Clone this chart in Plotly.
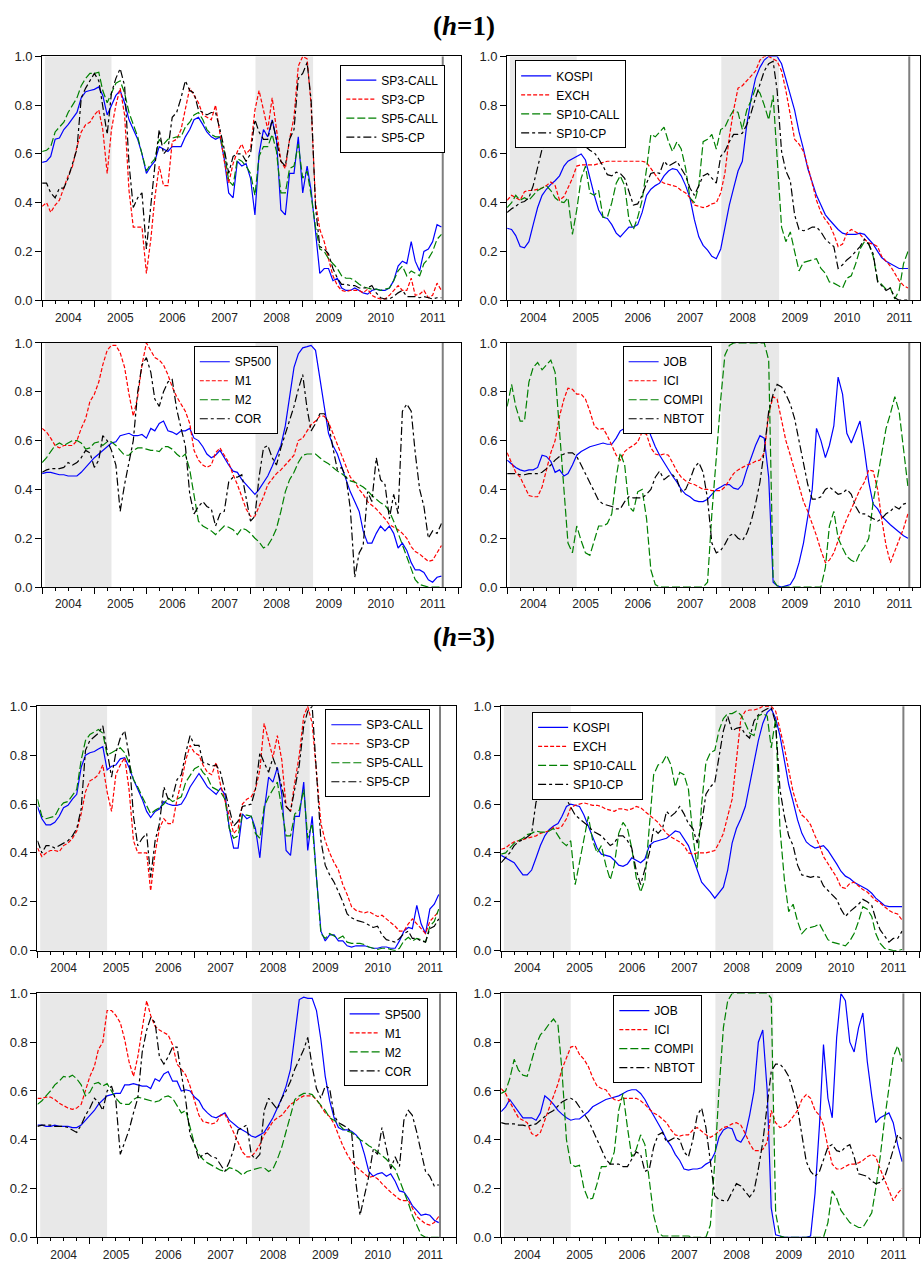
import plotly.graph_objects as go
import pandas as pd

# ---------------- data (monthly, 2004M01 .. 2011M09) ----------------
months = pd.date_range("2004-01-01", periods=93, freq="MS")
year_labels = ["2004", "2005", "2006", "2007", "2008", "2009", "2010", "2011"]
shade_periods = [("2004-01-20", "2005-05-01"), ("2008-02-05", "2009-03-15")]
sample_end = "2011-09-10"

# ===== h = 1 =====
sp3_call_h1 = [0.565,0.57,0.59,0.66,0.665,0.70,0.72,0.745,0.77,0.83,0.855,0.86,
               0.865,0.875,0.84,0.76,0.80,0.84,0.86,0.81,0.74,0.70,0.66,0.60,
               0.52,0.55,0.57,0.63,0.62,0.61,0.63,0.63,0.63,0.67,0.70,0.74,
               0.75,0.72,0.69,0.67,0.66,0.67,0.58,0.44,0.42,0.57,0.55,0.56,
               0.50,0.35,0.60,0.70,0.67,0.74,0.66,0.37,0.35,0.52,0.52,0.67,
               0.44,0.55,0.45,0.28,0.11,0.13,0.13,0.08,0.09,0.05,0.04,0.04,
               0.05,0.04,0.03,0.025,0.04,0.045,0.04,0.04,0.05,0.08,0.14,0.16,
               0.15,0.24,0.16,0.12,0.20,0.21,0.24,0.31,0.30]
sp3_cp_h1 = [0.385,0.40,0.36,0.39,0.41,0.46,0.51,0.55,0.63,0.69,0.72,0.73,
             0.76,0.78,0.70,0.52,0.70,0.80,0.87,0.76,0.45,0.30,0.30,0.30,
             0.11,0.25,0.42,0.55,0.47,0.47,0.65,0.66,0.70,0.78,0.87,0.84,
             0.81,0.76,0.75,0.74,0.80,0.68,0.57,0.48,0.56,0.61,0.64,0.60,
             0.62,0.78,0.86,0.78,0.70,0.83,0.71,0.57,0.54,0.66,0.75,0.96,
             1.0,0.99,0.80,0.40,0.29,0.24,0.17,0.10,0.06,0.04,0.035,0.04,
             0.04,0.04,0.03,0.045,0.02,0.01,0.005,0.005,0.02,0.04,0.06,0.04,
             0.04,0.09,0.02,0.025,0.04,0.01,0.02,0.07,0.04]
sp5_call_h1 = [0.61,0.615,0.63,0.69,0.71,0.73,0.77,0.80,0.83,0.88,0.91,0.93,
               0.93,0.935,0.86,0.81,0.85,0.89,0.90,0.85,0.77,0.72,0.67,0.60,
               0.53,0.56,0.58,0.66,0.64,0.66,0.665,0.67,0.67,0.71,0.73,0.76,
               0.77,0.74,0.70,0.68,0.67,0.67,0.61,0.49,0.47,0.58,0.57,0.55,
               0.52,0.43,0.59,0.63,0.63,0.68,0.61,0.44,0.44,0.54,0.55,0.64,
               0.50,0.53,0.43,0.30,0.21,0.20,0.17,0.15,0.13,0.10,0.09,0.09,
               0.08,0.065,0.055,0.05,0.045,0.045,0.04,0.045,0.05,0.08,0.12,0.14,
               0.10,0.12,0.11,0.10,0.15,0.17,0.20,0.25,0.27]
sp5_cp_h1 = [0.48,0.48,0.44,0.42,0.46,0.46,0.50,0.56,0.62,0.83,0.87,0.90,
             0.93,0.90,0.80,0.68,0.85,0.91,0.95,0.88,0.56,0.38,0.42,0.44,
             0.21,0.40,0.55,0.70,0.60,0.62,0.75,0.77,0.83,0.90,0.86,0.85,
             0.78,0.77,0.76,0.77,0.77,0.70,0.62,0.52,0.59,0.60,0.60,0.57,
             0.60,0.74,0.69,0.66,0.66,0.74,0.66,0.57,0.55,0.66,0.70,0.91,
             0.93,0.975,0.82,0.38,0.22,0.21,0.19,0.13,0.09,0.065,0.065,0.06,
             0.06,0.05,0.05,0.05,0.06,0.03,0.01,0.005,0.005,0.015,0.03,0.04,
             0.015,0.015,0.015,0.01,0.015,0.01,0.005,0.01,0.01]

kospi_h1 = [0.295,0.29,0.265,0.22,0.215,0.24,0.31,0.38,0.43,0.455,0.475,0.49,
            0.51,0.55,0.57,0.58,0.59,0.60,0.575,0.50,0.43,0.37,0.34,0.335,
            0.31,0.275,0.26,0.28,0.30,0.30,0.31,0.36,0.43,0.455,0.47,0.48,
            0.51,0.53,0.54,0.535,0.51,0.47,0.42,0.33,0.26,0.225,0.205,0.18,
            0.17,0.21,0.30,0.39,0.46,0.53,0.57,0.72,0.83,0.91,0.955,0.985,
            1.0,1.0,1.0,0.97,0.91,0.85,0.78,0.69,0.62,0.54,0.48,0.43,
            0.39,0.35,0.33,0.31,0.29,0.275,0.27,0.27,0.27,0.275,0.27,0.25,
            0.23,0.20,0.175,0.16,0.15,0.14,0.13,0.13,0.13]
exch_h1 = [0.41,0.43,0.42,0.41,0.445,0.45,0.45,0.455,0.46,0.47,0.485,0.47,
           0.41,0.425,0.46,0.50,0.55,0.555,0.555,0.555,0.555,0.56,0.565,0.57,
           0.57,0.57,0.57,0.57,0.57,0.57,0.57,0.57,0.565,0.54,0.515,0.49,
           0.48,0.475,0.47,0.465,0.45,0.44,0.42,0.39,0.385,0.38,0.385,0.395,
           0.40,0.44,0.52,0.67,0.78,0.87,0.88,0.90,0.92,0.94,0.985,1.0,
           1.0,0.99,0.98,0.94,0.86,0.76,0.66,0.64,0.61,0.55,0.48,0.41,
           0.36,0.33,0.31,0.27,0.22,0.23,0.275,0.29,0.28,0.27,0.25,0.235,
           0.23,0.22,0.18,0.16,0.14,0.11,0.08,0.06,0.05]
sp10_call_h1 = [0.38,0.40,0.43,0.41,0.42,0.41,0.43,0.45,0.46,0.47,0.45,0.42,
                0.405,0.40,0.42,0.27,0.37,0.50,0.55,0.44,0.43,0.45,0.34,0.34,
                0.40,0.48,0.51,0.47,0.33,0.29,0.34,0.41,0.54,0.68,0.67,0.69,
                0.71,0.65,0.61,0.65,0.62,0.54,0.42,0.40,0.47,0.65,0.66,0.68,
                0.62,0.70,0.71,0.75,0.78,0.77,0.70,0.78,0.82,0.87,0.85,0.80,
                0.74,0.84,0.58,0.30,0.24,0.28,0.20,0.12,0.155,0.16,0.165,0.17,
                0.13,0.11,0.075,0.07,0.06,0.05,0.09,0.10,0.15,0.21,0.24,0.23,
                0.18,0.08,0.065,0.045,0.05,0.005,0.04,0.15,0.20]
sp10_cp_h1 = [0.36,0.375,0.385,0.40,0.405,0.42,0.47,0.54,0.62,0.635,0.645,0.66,
              0.67,0.665,0.655,0.68,0.685,0.66,0.63,0.615,0.605,0.58,0.55,0.515,
              0.51,0.525,0.52,0.50,0.45,0.39,0.395,0.43,0.48,0.52,0.525,0.52,
              0.57,0.55,0.56,0.57,0.54,0.51,0.46,0.43,0.47,0.51,0.52,0.50,
              0.48,0.59,0.61,0.65,0.68,0.68,0.685,0.72,0.77,0.83,0.89,0.94,
              0.97,0.98,0.86,0.61,0.53,0.49,0.35,0.29,0.285,0.29,0.30,0.30,
              0.28,0.25,0.235,0.22,0.13,0.145,0.165,0.18,0.20,0.22,0.25,0.23,
              0.19,0.075,0.06,0.04,0.05,0.01,0.0,0.0,0.0]

sp500_h1 = [0.465,0.47,0.47,0.465,0.46,0.46,0.455,0.455,0.455,0.47,0.49,0.51,
            0.53,0.545,0.56,0.575,0.59,0.595,0.62,0.625,0.63,0.62,0.62,0.625,
            0.61,0.65,0.64,0.67,0.68,0.64,0.635,0.625,0.64,0.64,0.65,0.61,
            0.60,0.575,0.545,0.53,0.54,0.56,0.53,0.50,0.475,0.47,0.44,0.42,
            0.40,0.38,0.40,0.43,0.455,0.495,0.54,0.58,0.66,0.77,0.90,0.955,
            0.98,0.985,0.99,0.97,0.85,0.74,0.63,0.58,0.545,0.49,0.44,0.39,
            0.35,0.31,0.23,0.18,0.18,0.22,0.25,0.23,0.25,0.22,0.16,0.18,
            0.15,0.10,0.07,0.07,0.06,0.03,0.02,0.04,0.045]
m1_h1 = [0.65,0.635,0.61,0.58,0.57,0.58,0.58,0.58,0.60,0.65,0.69,0.76,
         0.79,0.84,0.91,0.97,0.99,0.99,0.96,0.90,0.79,0.70,0.78,0.91,
         1.0,0.97,0.94,0.93,0.91,0.87,0.82,0.78,0.75,0.72,0.67,0.56,
         0.52,0.50,0.49,0.50,0.55,0.57,0.54,0.51,0.46,0.42,0.37,0.32,
         0.29,0.29,0.33,0.37,0.42,0.445,0.465,0.48,0.50,0.52,0.54,0.60,
         0.61,0.64,0.665,0.68,0.70,0.70,0.675,0.63,0.585,0.54,0.50,0.45,
         0.43,0.40,0.38,0.35,0.335,0.32,0.30,0.28,0.255,0.245,0.235,0.22,
         0.20,0.165,0.145,0.135,0.12,0.105,0.11,0.14,0.17]
m2_h1 = [0.51,0.53,0.555,0.58,0.59,0.58,0.59,0.60,0.60,0.59,0.565,0.57,
         0.59,0.595,0.58,0.595,0.595,0.58,0.56,0.54,0.54,0.56,0.57,0.57,
         0.565,0.56,0.56,0.555,0.575,0.575,0.565,0.545,0.53,0.545,0.48,0.38,
         0.27,0.25,0.24,0.23,0.215,0.235,0.25,0.245,0.235,0.215,0.24,0.235,
         0.22,0.20,0.185,0.16,0.17,0.20,0.24,0.31,0.39,0.44,0.47,0.51,
         0.54,0.545,0.545,0.545,0.53,0.515,0.505,0.49,0.475,0.465,0.45,0.435,
         0.43,0.42,0.41,0.395,0.375,0.36,0.345,0.335,0.31,0.27,0.22,0.18,
         0.13,0.08,0.03,0.01,0.005,0.0,0.0,0.0,0.0]
cor_h1 = [0.47,0.48,0.485,0.485,0.485,0.49,0.51,0.50,0.51,0.53,0.56,0.55,
          0.49,0.52,0.62,0.60,0.56,0.50,0.31,0.42,0.52,0.60,0.80,0.91,
          0.94,0.88,0.77,0.74,0.80,0.84,0.85,0.73,0.65,0.58,0.38,0.30,
          0.33,0.35,0.33,0.32,0.25,0.30,0.31,0.43,0.45,0.45,0.46,0.37,
          0.27,0.29,0.45,0.57,0.58,0.53,0.50,0.57,0.63,0.68,0.74,0.81,
          0.87,0.73,0.64,0.67,0.71,0.71,0.67,0.57,0.48,0.49,0.45,0.32,
          0.04,0.14,0.17,0.39,0.35,0.53,0.44,0.42,0.28,0.38,0.30,0.72,
          0.75,0.72,0.55,0.40,0.33,0.20,0.23,0.22,0.26]

job_h1 = [0.52,0.505,0.49,0.48,0.475,0.48,0.48,0.49,0.54,0.535,0.515,0.47,
          0.48,0.455,0.465,0.50,0.54,0.555,0.565,0.575,0.58,0.585,0.59,0.585,
          0.585,0.61,0.64,0.65,0.645,0.655,0.665,0.69,0.67,0.62,0.575,0.54,
          0.51,0.48,0.455,0.43,0.40,0.38,0.37,0.355,0.35,0.35,0.36,0.38,
          0.40,0.41,0.42,0.42,0.405,0.40,0.42,0.48,0.53,0.58,0.62,0.61,
          0.45,0.02,0.005,0.0,0.005,0.01,0.04,0.10,0.18,0.28,0.40,0.65,
          0.60,0.53,0.58,0.66,0.86,0.79,0.63,0.59,0.64,0.68,0.56,0.43,
          0.34,0.32,0.29,0.27,0.255,0.24,0.225,0.21,0.20]
ici_h1 = [0.55,0.51,0.47,0.45,0.41,0.375,0.37,0.37,0.41,0.48,0.55,0.60,
          0.70,0.77,0.815,0.81,0.79,0.79,0.77,0.72,0.66,0.645,0.65,0.62,
          0.58,0.54,0.52,0.555,0.57,0.58,0.595,0.635,0.625,0.57,0.545,0.54,
          0.545,0.54,0.51,0.475,0.45,0.435,0.425,0.42,0.41,0.40,0.40,0.395,
          0.395,0.395,0.41,0.44,0.465,0.48,0.49,0.50,0.505,0.515,0.52,0.55,
          0.71,0.78,0.77,0.69,0.60,0.54,0.48,0.41,0.35,0.31,0.26,0.21,
          0.15,0.10,0.11,0.14,0.19,0.24,0.28,0.32,0.36,0.40,0.43,0.48,
          0.475,0.40,0.28,0.17,0.10,0.15,0.19,0.24,0.30]
compi_h1 = [0.74,0.83,0.74,0.68,0.68,0.84,0.90,0.92,0.89,0.91,0.93,0.88,
            0.64,0.36,0.18,0.14,0.25,0.19,0.14,0.13,0.19,0.25,0.25,0.26,
            0.30,0.45,0.55,0.50,0.33,0.31,0.39,0.40,0.28,0.07,0.01,0.0,
            0.0,0.0,0.0,0.0,0.0,0.0,0.0,0.0,0.0,0.0,0.02,0.30,
            0.53,0.77,0.95,0.99,1.0,1.0,1.0,1.0,1.0,1.0,1.0,1.0,
            0.93,0.03,0.005,0.0,0.0,0.0,0.0,0.0,0.0,0.0,0.0,0.0,
            0.0,0.08,0.25,0.31,0.20,0.16,0.125,0.11,0.10,0.14,0.165,0.20,
            0.35,0.45,0.55,0.65,0.71,0.78,0.72,0.56,0.41]
nbtot_h1 = [0.465,0.465,0.465,0.46,0.46,0.465,0.465,0.465,0.47,0.485,0.50,0.52,
            0.535,0.545,0.55,0.55,0.535,0.50,0.465,0.43,0.39,0.355,0.34,0.335,
            0.33,0.32,0.32,0.35,0.37,0.365,0.365,0.365,0.38,0.40,0.45,0.475,
            0.44,0.455,0.46,0.44,0.39,0.40,0.44,0.49,0.51,0.47,0.36,0.18,
            0.14,0.15,0.175,0.21,0.22,0.20,0.19,0.22,0.27,0.34,0.43,0.56,
            0.72,0.79,0.83,0.82,0.79,0.75,0.69,0.60,0.51,0.42,0.36,0.36,
            0.37,0.40,0.41,0.395,0.38,0.385,0.40,0.38,0.33,0.30,0.30,0.29,
            0.28,0.27,0.28,0.30,0.31,0.33,0.32,0.34,0.345]

# ===== h = 3 =====
sp3_call_h3 = [0.59,0.54,0.515,0.515,0.525,0.55,0.585,0.595,0.62,0.64,0.75,0.80,
               0.81,0.815,0.825,0.835,0.74,0.755,0.76,0.785,0.79,0.75,0.70,0.66,
               0.62,0.57,0.545,0.57,0.58,0.61,0.60,0.595,0.595,0.60,0.63,0.67,
               0.70,0.725,0.70,0.67,0.655,0.64,0.665,0.64,0.50,0.42,0.42,0.56,
               0.54,0.55,0.50,0.38,0.57,0.71,0.69,0.75,0.64,0.41,0.39,0.55,
               0.55,0.69,0.41,0.55,0.30,0.08,0.04,0.065,0.065,0.04,0.04,0.02,
               0.015,0.02,0.02,0.02,0.015,0.01,0.01,0.015,0.015,0.01,0.01,0.04,
               0.08,0.095,0.09,0.185,0.11,0.07,0.17,0.19,0.23]
sp3_cp_h3 = [0.42,0.385,0.40,0.41,0.41,0.405,0.43,0.44,0.46,0.49,0.56,0.65,
             0.695,0.705,0.72,0.76,0.65,0.57,0.72,0.76,0.79,0.66,0.45,0.40,
             0.40,0.40,0.245,0.40,0.50,0.54,0.52,0.52,0.62,0.69,0.78,0.84,
             0.81,0.80,0.76,0.73,0.72,0.77,0.68,0.62,0.55,0.48,0.50,0.60,
             0.62,0.63,0.66,0.74,0.93,0.86,0.79,0.88,0.78,0.59,0.57,0.69,
             0.80,0.96,1.0,0.93,0.72,0.52,0.45,0.40,0.36,0.33,0.27,0.23,
             0.18,0.165,0.16,0.155,0.16,0.15,0.14,0.145,0.13,0.115,0.10,0.08,
             0.08,0.11,0.13,0.11,0.09,0.07,0.12,0.14,0.16]
sp5_call_h3 = [0.62,0.55,0.54,0.545,0.55,0.585,0.605,0.61,0.635,0.66,0.78,0.86,
               0.885,0.895,0.905,0.89,0.80,0.81,0.82,0.83,0.81,0.77,0.70,0.67,
               0.63,0.59,0.56,0.575,0.585,0.60,0.625,0.61,0.62,0.63,0.69,0.72,
               0.745,0.755,0.73,0.71,0.67,0.66,0.65,0.62,0.50,0.46,0.47,0.555,
               0.555,0.55,0.48,0.46,0.59,0.63,0.66,0.69,0.58,0.47,0.47,0.56,
               0.575,0.66,0.46,0.52,0.30,0.07,0.05,0.07,0.06,0.05,0.06,0.035,
               0.03,0.03,0.03,0.025,0.015,0.01,0.005,0.01,0.01,0.005,0.0,0.01,
               0.04,0.055,0.04,0.05,0.045,0.035,0.10,0.12,0.17]
sp5_cp_h3 = [0.45,0.40,0.43,0.43,0.42,0.43,0.44,0.45,0.47,0.50,0.58,0.82,
             0.86,0.875,0.89,0.92,0.82,0.71,0.81,0.87,0.90,0.80,0.55,0.43,
             0.46,0.48,0.30,0.45,0.52,0.67,0.62,0.63,0.70,0.72,0.81,0.88,
             0.84,0.84,0.77,0.765,0.755,0.76,0.73,0.65,0.58,0.51,0.53,0.59,
             0.595,0.60,0.66,0.81,0.77,0.73,0.79,0.74,0.67,0.59,0.57,0.67,
             0.76,0.92,0.98,1.0,0.75,0.45,0.35,0.31,0.28,0.24,0.20,0.15,
             0.135,0.125,0.12,0.115,0.105,0.095,0.10,0.065,0.045,0.04,0.035,0.05,
             0.07,0.08,0.05,0.05,0.04,0.035,0.09,0.10,0.13]

kospi_h3 = [0.39,0.38,0.37,0.36,0.335,0.31,0.31,0.33,0.38,0.43,0.47,0.495,
            0.51,0.52,0.55,0.59,0.60,0.595,0.59,0.555,0.51,0.46,0.42,0.395,
            0.39,0.385,0.37,0.35,0.345,0.355,0.38,0.37,0.36,0.375,0.43,0.445,
            0.45,0.455,0.46,0.475,0.49,0.485,0.46,0.43,0.38,0.33,0.28,0.26,
            0.24,0.215,0.235,0.26,0.33,0.44,0.50,0.54,0.59,0.68,0.78,0.86,
            0.93,0.975,0.99,0.95,0.88,0.78,0.68,0.61,0.535,0.48,0.445,0.43,
            0.42,0.425,0.43,0.41,0.385,0.355,0.325,0.305,0.295,0.28,0.27,0.26,
            0.25,0.235,0.215,0.20,0.185,0.18,0.18,0.18,0.18]
exch_h3 = [0.415,0.42,0.435,0.445,0.45,0.455,0.46,0.465,0.47,0.48,0.485,0.49,
           0.505,0.50,0.51,0.54,0.585,0.595,0.60,0.605,0.60,0.595,0.595,0.59,
           0.58,0.575,0.57,0.58,0.58,0.575,0.58,0.59,0.585,0.57,0.555,0.54,
           0.525,0.50,0.48,0.465,0.455,0.445,0.43,0.40,0.395,0.40,0.40,0.40,
           0.405,0.41,0.44,0.48,0.55,0.62,0.78,0.95,0.98,0.985,0.985,0.99,
           1.0,1.0,1.0,0.98,0.91,0.83,0.74,0.65,0.59,0.555,0.54,0.515,
           0.47,0.43,0.385,0.355,0.33,0.30,0.26,0.255,0.275,0.28,0.265,0.25,
           0.24,0.22,0.205,0.195,0.18,0.165,0.155,0.15,0.125]
sp10_call_h3 = [0.395,0.40,0.42,0.44,0.45,0.46,0.475,0.48,0.49,0.485,0.485,0.49,
                0.50,0.47,0.445,0.43,0.45,0.27,0.36,0.46,0.55,0.45,0.40,0.43,
                0.35,0.29,0.35,0.48,0.525,0.50,0.42,0.30,0.24,0.29,0.50,0.72,
                0.76,0.77,0.80,0.76,0.67,0.73,0.72,0.66,0.47,0.34,0.60,0.77,
                0.81,0.82,0.90,0.95,0.97,0.97,0.98,0.965,0.93,0.89,0.88,0.96,
                0.97,0.96,0.83,0.95,0.50,0.29,0.16,0.19,0.12,0.07,0.09,0.095,
                0.10,0.11,0.08,0.045,0.035,0.03,0.025,0.02,0.04,0.07,0.12,0.18,
                0.17,0.14,0.07,0.03,0.01,0.005,0.0,0.0,0.005]
sp10_cp_h3 = [0.36,0.38,0.40,0.43,0.445,0.455,0.465,0.48,0.61,0.62,0.625,0.63,
              0.635,0.645,0.64,0.62,0.59,0.555,0.54,0.525,0.51,0.49,0.48,0.47,
              0.45,0.43,0.44,0.47,0.47,0.45,0.42,0.33,0.27,0.33,0.40,0.50,
              0.48,0.50,0.57,0.55,0.565,0.59,0.56,0.52,0.50,0.44,0.52,0.64,
              0.67,0.69,0.80,0.90,0.96,0.90,0.91,0.915,0.885,0.87,0.94,0.965,
              0.98,0.99,0.995,0.93,0.66,0.55,0.47,0.43,0.35,0.31,0.305,0.30,
              0.305,0.30,0.265,0.245,0.23,0.21,0.17,0.14,0.16,0.175,0.19,0.21,
              0.20,0.185,0.13,0.085,0.06,0.035,0.05,0.05,0.08]

sp500_h3 = [0.46,0.46,0.455,0.455,0.46,0.455,0.455,0.455,0.45,0.45,0.46,0.48,
            0.50,0.52,0.545,0.565,0.58,0.585,0.59,0.59,0.625,0.625,0.63,0.625,
            0.62,0.62,0.61,0.65,0.64,0.67,0.68,0.64,0.64,0.60,0.605,0.60,
            0.575,0.56,0.53,0.51,0.495,0.49,0.50,0.51,0.48,0.465,0.45,0.44,
            0.43,0.415,0.41,0.42,0.43,0.46,0.49,0.53,0.57,0.62,0.69,0.83,
            0.975,0.985,0.98,0.98,0.93,0.81,0.66,0.56,0.49,0.45,0.44,0.44,
            0.435,0.42,0.40,0.34,0.27,0.25,0.26,0.265,0.25,0.26,0.23,0.19,
            0.185,0.16,0.13,0.11,0.09,0.095,0.09,0.07,0.06]
m1_h3 = [0.57,0.57,0.575,0.575,0.565,0.55,0.54,0.53,0.525,0.53,0.545,0.60,
         0.66,0.70,0.77,0.80,0.93,0.93,0.91,0.88,0.81,0.72,0.66,0.74,
         0.86,0.97,0.91,0.865,0.85,0.84,0.83,0.79,0.71,0.69,0.665,0.62,
         0.56,0.50,0.475,0.47,0.465,0.47,0.50,0.505,0.47,0.43,0.39,0.35,
         0.33,0.33,0.35,0.38,0.42,0.445,0.475,0.49,0.50,0.52,0.545,0.555,
         0.57,0.58,0.58,0.58,0.565,0.535,0.51,0.495,0.465,0.42,0.375,0.34,
         0.31,0.29,0.275,0.26,0.245,0.25,0.24,0.22,0.20,0.185,0.17,0.155,
         0.15,0.15,0.12,0.085,0.07,0.055,0.05,0.06,0.085]
m2_h3 = [0.545,0.56,0.58,0.60,0.625,0.64,0.66,0.655,0.665,0.65,0.625,0.58,
         0.595,0.63,0.635,0.62,0.63,0.60,0.57,0.55,0.545,0.545,0.565,0.575,
         0.57,0.565,0.56,0.555,0.56,0.575,0.58,0.57,0.54,0.51,0.52,0.45,
         0.38,0.34,0.32,0.305,0.295,0.285,0.275,0.27,0.285,0.28,0.27,0.255,
         0.27,0.275,0.28,0.285,0.285,0.27,0.28,0.32,0.37,0.44,0.50,0.565,
         0.58,0.59,0.59,0.585,0.565,0.54,0.52,0.49,0.48,0.465,0.445,0.435,
         0.43,0.415,0.40,0.39,0.375,0.365,0.35,0.335,0.32,0.30,0.28,0.235,
         0.19,0.14,0.09,0.05,0.01,0.0,0.0,0.0,0.0]
cor_h3 = [0.455,0.46,0.46,0.46,0.455,0.455,0.455,0.45,0.44,0.43,0.46,0.50,
          0.53,0.57,0.555,0.52,0.60,0.62,0.56,0.34,0.39,0.44,0.51,0.57,
          0.76,0.85,0.90,0.88,0.74,0.71,0.74,0.78,0.78,0.68,0.56,0.42,
          0.38,0.32,0.34,0.345,0.33,0.325,0.30,0.27,0.31,0.36,0.44,0.45,
          0.46,0.34,0.32,0.34,0.52,0.57,0.55,0.525,0.57,0.60,0.64,0.69,
          0.73,0.77,0.82,0.70,0.61,0.57,0.62,0.61,0.50,0.47,0.46,0.45,
          0.43,0.22,0.09,0.17,0.25,0.36,0.34,0.45,0.37,0.28,0.33,0.29,
          0.48,0.52,0.50,0.43,0.35,0.27,0.25,0.21,0.215]

job_h3 = [0.515,0.535,0.565,0.54,0.515,0.49,0.49,0.49,0.48,0.51,0.58,0.565,
          0.545,0.52,0.505,0.49,0.48,0.485,0.485,0.50,0.515,0.535,0.545,0.555,
          0.565,0.57,0.575,0.58,0.59,0.60,0.605,0.605,0.59,0.565,0.53,0.50,
          0.47,0.435,0.40,0.375,0.34,0.315,0.28,0.275,0.28,0.28,0.285,0.30,
          0.31,0.345,0.41,0.44,0.45,0.445,0.40,0.39,0.42,0.50,0.60,0.80,
          0.85,0.60,0.12,0.01,0.005,0.0,0.0,0.0,0.0,0.0,0.0,0.005,
          0.18,0.46,0.79,0.57,0.49,0.82,1.0,0.97,0.80,0.76,0.86,0.92,
          0.72,0.58,0.47,0.49,0.50,0.51,0.47,0.38,0.31]
ici_h3 = [0.61,0.59,0.555,0.52,0.49,0.48,0.47,0.425,0.415,0.43,0.48,0.53,
          0.58,0.63,0.69,0.74,0.78,0.785,0.75,0.73,0.70,0.655,0.62,0.61,
          0.605,0.58,0.565,0.56,0.57,0.57,0.57,0.57,0.56,0.545,0.525,0.51,
          0.50,0.485,0.47,0.44,0.42,0.415,0.42,0.42,0.44,0.45,0.435,0.42,
          0.41,0.42,0.435,0.45,0.455,0.465,0.47,0.46,0.425,0.385,0.355,0.355,
          0.36,0.39,0.52,0.47,0.45,0.455,0.47,0.495,0.52,0.565,0.585,0.57,
          0.52,0.50,0.46,0.37,0.30,0.28,0.28,0.29,0.30,0.30,0.305,0.315,
          0.33,0.34,0.33,0.28,0.235,0.19,0.15,0.18,0.20]
compi_h3 = [0.59,0.60,0.65,0.73,0.685,0.665,0.66,0.72,0.79,0.83,0.85,0.875,
            0.895,0.87,0.68,0.40,0.30,0.29,0.295,0.20,0.155,0.16,0.22,0.29,
            0.29,0.30,0.35,0.52,0.59,0.45,0.33,0.36,0.42,0.38,0.24,0.09,
            0.02,0.005,0.005,0.005,0.005,0.005,0.005,0.005,0.0,0.0,0.0,0.0,
            0.05,0.31,0.60,0.86,0.97,1.0,1.0,1.0,1.0,1.0,1.0,1.0,
            1.0,1.0,0.98,0.10,0.005,0.0,0.0,0.0,0.0,0.0,0.0,0.0,
            0.0,0.0,0.0,0.06,0.19,0.16,0.11,0.085,0.06,0.05,0.04,0.04,
            0.07,0.10,0.20,0.33,0.48,0.62,0.74,0.785,0.72]
nbtot_h3 = [0.47,0.465,0.465,0.465,0.46,0.46,0.455,0.46,0.465,0.48,0.495,0.51,
            0.52,0.54,0.555,0.565,0.57,0.56,0.535,0.51,0.48,0.44,0.40,0.36,
            0.32,0.30,0.30,0.30,0.29,0.29,0.32,0.35,0.34,0.27,0.28,0.37,
            0.42,0.43,0.39,0.40,0.41,0.40,0.35,0.33,0.40,0.50,0.53,0.45,
            0.30,0.17,0.155,0.15,0.15,0.185,0.22,0.21,0.185,0.165,0.19,0.28,
            0.39,0.55,0.68,0.71,0.71,0.69,0.66,0.60,0.53,0.42,0.31,0.27,
            0.25,0.27,0.32,0.37,0.38,0.355,0.35,0.37,0.38,0.33,0.26,0.255,
            0.25,0.23,0.22,0.225,0.245,0.30,0.36,0.42,0.40]

# ---------------- styling ----------------
W, H = 921, 1265
FONT = "Arial, Liberation Sans, Helvetica, sans-serif"
STYLES = [dict(color="#0000ff", dash="solid"),
          dict(color="#ff0000", dash="4px,2px"),
          dict(color="#008000", dash="8px,3px"),
          dict(color="#000000", dash="8px,3px,3px,3px")]

def px_x(a, b):
    return [a / W, b / W]

def px_y(top, bottom):
    return [1 - bottom / H, 1 - top / H]

panels = [
    # (names, series, x-domain px, y-domain px, x-range end, legend top-left px)
    (["SP3-CALL", "SP3-CP", "SP5-CALL", "SP5-CP"],
     [sp3_call_h1, sp3_cp_h1, sp5_call_h1, sp5_cp_h1],
     (42.2, 461.5), (50, 296.7), "2012-01-16", (340.7, 58.3)),
    (["KOSPI", "EXCH", "SP10-CALL", "SP10-CP"],
     [kospi_h1, exch_h1, sp10_call_h1, sp10_cp_h1],
     (507.7, 921), (50, 296.7), "2011-11-24", (515.7, 54)),
    (["SP500", "M1", "M2", "COR"],
     [sp500_h1, m1_h1, m2_h1, cor_h1],
     (42.2, 461.5), (340, 587), "2012-01-16", (194, 343.3)),
    (["JOB", "ICI", "COMPI", "NBTOT"],
     [job_h1, ici_h1, compi_h1, nbtot_h1],
     (507.7, 921), (340, 587), "2011-11-24", (623.3, 343.3)),
    (["SP3-CALL", "SP3-CP", "SP5-CALL", "SP5-CP"],
     [sp3_call_h3, sp3_cp_h3, sp5_call_h3, sp5_cp_h3],
     (37.5, 456.7), (707.7, 955), "2012-01-01", (325.7, 710.7)),
    (["KOSPI", "EXCH", "SP10-CALL", "SP10-CP"],
     [kospi_h3, exch_h3, sp10_call_h3, sp10_cp_h3],
     (501.7, 921), (707.7, 955), "2012-01-04", (532.7, 713.3)),
    (["SP500", "M1", "M2", "COR"],
     [sp500_h3, m1_h3, m2_h3, cor_h3],
     (37.5, 456.7), (998.3, 1245), "2012-01-01", (344, 1003.3)),
    (["JOB", "ICI", "COMPI", "NBTOT"],
     [job_h3, ici_h3, compi_h3, nbtot_h3],
     (501.7, 921), (998.3, 1245), "2012-01-04", (614, 1000)),
]

fig = go.Figure()
layout = dict(width=W, height=H, margin=dict(l=0, r=0, t=0, b=0),
              paper_bgcolor="white", plot_bgcolor="white",
              font=dict(family=FONT, size=12, color="#222222"),
              shapes=[], annotations=[])

for i, (names, series, xd, yd, xend, legpos) in enumerate(panels):
    k = i + 1
    xa = "x" if k == 1 else f"x{k}"
    ya = "y" if k == 1 else f"y{k}"
    leg = "legend" if k == 1 else f"legend{k}"
    for name, vals, st in zip(names, series, STYLES):
        fig.add_trace(go.Scatter(
            x=months[:len(vals)], y=vals, name=name, mode="lines",
            line=dict(color=st["color"], dash=st["dash"], width=1.2),
            xaxis=xa, yaxis=ya, legend=leg, showlegend=True))
    layout["xaxis" if k == 1 else f"xaxis{k}"] = dict(
        domain=px_x(*xd), anchor=ya, type="date",
        range=["2004-01-01", xend], tick0="2004-01-01", dtick="M12",
        tickformat="%Y", ticklabelmode="period",
        ticks="outside", ticklen=6, tickcolor="black", tickwidth=1,
        minor=dict(dtick="M3", ticks="outside", ticklen=3, tickcolor="black"),
        showline=True, linecolor="black", linewidth=1, mirror=True,
        showgrid=False, zeroline=False,
        tickfont=dict(size=12, color="#222222", family=FONT))
    layout["yaxis" if k == 1 else f"yaxis{k}"] = dict(
        domain=px_y(*yd), anchor=xa, range=[0, 1], dtick=0.2, tick0=0,
        tickformat=".1f", ticks="outside", ticklen=6, tickcolor="black",
        showline=True, linecolor="black", linewidth=1, mirror=True,
        showgrid=False, zeroline=False,
        tickfont=dict(size=13, color="#222222", family=FONT))
    layout[leg] = dict(
        x=legpos[0] / W, y=1 - legpos[1] / H, xanchor="left", yanchor="top",
        bgcolor="white", bordercolor="black", borderwidth=1,
        font=dict(size=12, family=FONT, color="black"),
        itemwidth=30, tracegroupgap=0)
    for (s0, s1) in shade_periods:
        layout["shapes"].append(dict(
            type="rect", xref=xa, yref=f"{ya} domain", x0=s0, x1=s1, y0=0, y1=1,
            fillcolor="#e8e8e8", line=dict(width=0), layer="below"))
    layout["shapes"].append(dict(
        type="line", xref=xa, yref=f"{ya} domain", x0=sample_end, x1=sample_end,
        y0=0, y1=1, line=dict(color="#7f7f7f", width=2), layer="above"))

for txt, ypx in [("<b>(<i>h</i>=1)</b>", 19), ("<b>(<i>h</i>=3)</b>", 638)]:
    layout["annotations"].append(dict(
        text=txt, xref="paper", yref="paper", x=465 / W, y=1 - ypx / H,
        xanchor="center", yanchor="middle", showarrow=False,
        font=dict(family="Times New Roman, Liberation Serif, serif", size=27,
                  color="black")))

fig.update_layout(**layout)
fig.write_html("out.html")
